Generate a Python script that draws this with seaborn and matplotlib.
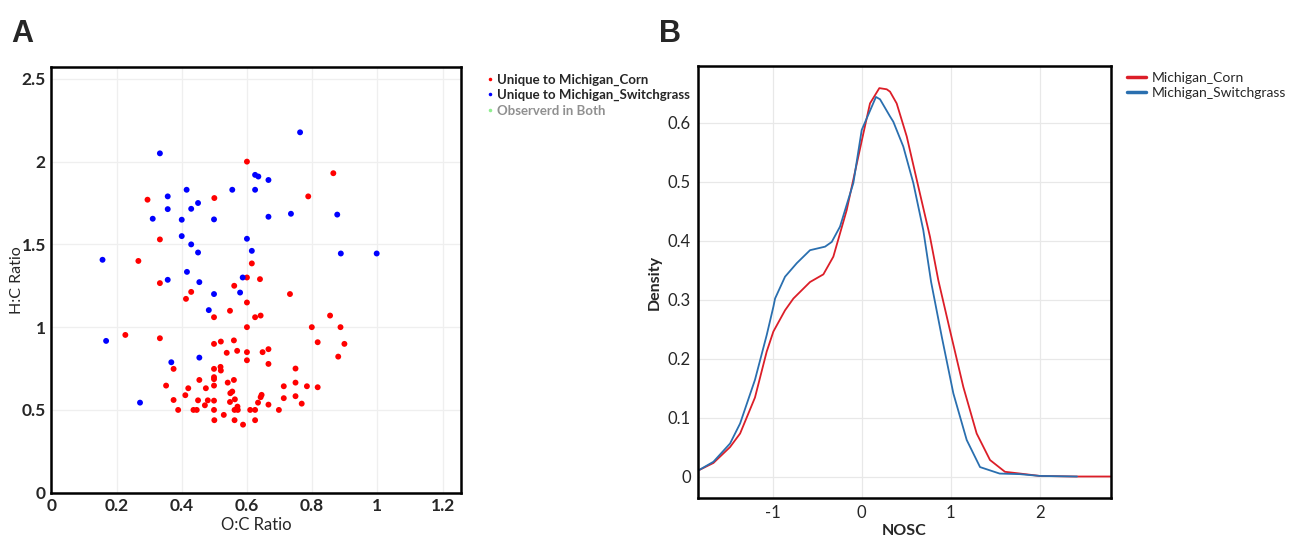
import matplotlib
matplotlib.use('Agg')
import matplotlib.pyplot as plt
from matplotlib.ticker import FuncFormatter
import seaborn as sns
import pandas as pd

# Panel A: van Krevelen points (O:C, H:C)
corn_oc = [0.6, 0.5, 0.295, 0.865, 0.788, 0.333, 0.615, 0.267, 0.64, 0.6,
           0.333, 0.429, 0.413, 0.561, 0.6, 0.548, 0.499, 0.625, 0.642, 0.732,
           0.6, 0.855, 0.799, 0.887, 0.817, 0.899, 0.88, 0.227, 0.333, 0.499,
           0.52, 0.56, 0.538, 0.57, 0.6, 0.6, 0.648, 0.666, 0.666, 0.749,
           0.375, 0.499, 0.519, 0.52, 0.499, 0.499, 0.454, 0.56, 0.541, 0.352,
           0.499, 0.42, 0.474, 0.549, 0.555, 0.411, 0.375, 0.45, 0.48, 0.499,
           0.563, 0.548, 0.471, 0.571, 0.389, 0.436, 0.446, 0.499, 0.562, 0.572,
           0.61, 0.625, 0.698, 0.529, 0.5, 0.562, 0.625, 0.588, 0.713, 0.749,
           0.784, 0.817, 0.713, 0.749, 0.768, 0.645, 0.642, 0.634, 0.666]
corn_hc = [2.0, 1.78, 1.77, 1.93, 1.79, 1.53, 1.385, 1.40, 1.29, 1.30,
           1.266, 1.213, 1.171, 1.25, 1.149, 1.099, 1.06, 1.06, 1.07, 1.2,
           1.0, 1.07, 1.0, 1.0, 0.909, 0.899, 0.822, 0.953, 0.933, 0.899,
           0.913, 0.92, 0.845, 0.857, 0.849, 0.80, 0.849, 0.867, 0.778, 0.75,
           0.748, 0.748, 0.76, 0.738, 0.698, 0.686, 0.681, 0.681, 0.665, 0.647,
           0.647, 0.631, 0.631, 0.601, 0.611, 0.589, 0.56, 0.558, 0.558, 0.556,
           0.564, 0.548, 0.528, 0.52, 0.5, 0.5, 0.5, 0.5, 0.5, 0.5,
           0.5, 0.5, 0.5, 0.47, 0.438, 0.438, 0.438, 0.411, 0.643, 0.665,
           0.643, 0.637, 0.571, 0.583, 0.538, 0.591, 0.577, 0.544, 0.532]

switch_oc = [0.333, 0.625, 0.635, 0.415, 0.555, 0.625, 0.357, 0.357, 0.429, 0.45,
             0.311, 0.4, 0.499, 0.4, 0.429, 0.45, 0.6, 0.615, 0.157, 0.416,
             0.763, 0.666, 0.666, 0.735, 0.877, 0.888, 0.998, 0.587, 0.357, 0.454,
             0.499, 0.579, 0.483, 0.168, 0.368, 0.454, 0.272]
switch_hc = [2.05, 1.92, 1.91, 1.83, 1.83, 1.83, 1.79, 1.713, 1.715, 1.75,
             1.655, 1.649, 1.651, 1.55, 1.5, 1.451, 1.534, 1.461, 1.407, 1.334,
             2.177, 1.889, 1.667, 1.685, 1.68, 1.445, 1.445, 1.30, 1.286, 1.272,
             1.2, 1.209, 1.103, 0.917, 0.788, 0.816, 0.544]

groups = ['Unique to Michigan_Corn', 'Unique to Michigan_Switchgrass', 'Observerd in Both']

# Panel B: NOSC density curves
corn_nosc = [-1.84, -1.667, -1.48, -1.367, -1.2, -1.068, -0.993, -0.862, -0.768, -0.581,
             -0.431, -0.319, -0.169, 0.011, 0.093, 0.198, 0.281, 0.318, 0.393, 0.506,
             0.636, 0.767, 0.861, 0.992, 1.142, 1.292, 1.442, 1.61, 1.78, 2.0, 2.4, 2.85]
corn_density = [0.010, 0.023, 0.050, 0.073, 0.134, 0.212, 0.246, 0.282, 0.302, 0.330,
                0.343, 0.373, 0.452, 0.577, 0.633, 0.659, 0.657, 0.653, 0.633, 0.577,
                0.492, 0.407, 0.333, 0.248, 0.152, 0.073, 0.028, 0.008, 0.005, 0.001, 0.0, 0.0]
switch_nosc = [-1.84, -1.667, -1.48, -1.367, -1.2, -1.068, -0.993, -0.974, -0.862, -0.73,
               -0.581, -0.412, -0.337, -0.244, -0.094, 0.0, 0.16, 0.206, 0.318, 0.355,
               0.467, 0.58, 0.692, 0.78, 0.9, 1.03, 1.18, 1.33, 1.55, 1.78, 2.0, 2.42]
switch_density = [0.010, 0.025, 0.056, 0.090, 0.164, 0.240, 0.288, 0.302, 0.339, 0.362,
                  0.384, 0.390, 0.398, 0.424, 0.498, 0.588, 0.644, 0.640, 0.611, 0.602,
                  0.560, 0.498, 0.418, 0.330, 0.237, 0.141, 0.062, 0.016, 0.005, 0.004, 0.001, 0.0]

sns.set_theme(style='white')
plt.rcParams['font.family'] = ['Lato', 'DejaVu Sans']

scatter_df = pd.DataFrame({
    'oc': corn_oc + switch_oc,
    'hc': corn_hc + switch_hc,
    'group': [groups[0]] * len(corn_oc) + [groups[1]] * len(switch_oc),
})
kde_df = pd.DataFrame({
    'nosc': corn_nosc + switch_nosc,
    'density': corn_density + switch_density,
    'site': ['Michigan_Corn'] * len(corn_nosc) + ['Michigan_Switchgrass'] * len(switch_nosc),
})

fig = plt.figure(figsize=(12.9, 5.36), dpi=100)
ax_a = fig.add_axes([0.0398, 0.0808, 0.3174, 0.7937])
ax_b = fig.add_axes([0.5409, 0.0703, 0.3202, 0.8071])

fmt = FuncFormatter(lambda v, _: f'{v:g}')

# ---- panel A
sns.scatterplot(data=scatter_df, x='oc', y='hc', hue='group', hue_order=groups,
                palette={groups[0]: '#ff0000', groups[1]: '#0000ff', groups[2]: '#90ee90'},
                s=18, linewidth=0, ax=ax_a)
ax_a.set_xlim(0, 1.256)
ax_a.set_ylim(0, 2.57)
ax_a.set_xticks([0, 0.2, 0.4, 0.6, 0.8, 1.0, 1.2])
ax_a.set_yticks([0, 0.5, 1.0, 1.5, 2.0, 2.5])
ax_a.xaxis.set_major_formatter(fmt)
ax_a.yaxis.set_major_formatter(fmt)
ax_a.grid(True, color='#efefef', linewidth=0.9)
ax_a.tick_params(length=0, labelsize=12.5, pad=4)
for lbl in ax_a.get_xticklabels() + ax_a.get_yticklabels():
    lbl.set_fontweight('bold')
ax_a.set_xlabel('O:C Ratio', fontsize=12, labelpad=2)
ax_a.set_ylabel('H:C Ratio', fontsize=11.5)
ax_a.yaxis.set_label_coords(-0.066, 0.5)
for sp in ax_a.spines.values():
    sp.set_color('black')
    sp.set_linewidth(1.8)

leg_a = ax_a.legend(loc='upper left', bbox_to_anchor=(0.371, 0.875), bbox_transform=fig.transFigure,
                    frameon=False, fontsize=9.5, handletextpad=0.1, labelspacing=0.25,
                    handlelength=0.8, borderpad=0, markerscale=0.6)
for t in leg_a.get_texts():
    t.set_fontweight('bold')
leg_a.get_texts()[2].set_color('#909090')

# ---- panel B
sns.lineplot(data=kde_df, x='nosc', y='density', hue='site', sort=False,
             palette={'Michigan_Corn': '#dc1e28', 'Michigan_Switchgrass': '#2a6faf'},
             linewidth=1.3, ax=ax_b)
ax_b.set_xlim(-1.843, 2.8)
ax_b.set_ylim(-0.037, 0.697)
ax_b.set_xticks([-1, 0, 1, 2])
ax_b.set_yticks([0, 0.1, 0.2, 0.3, 0.4, 0.5, 0.6])
ax_b.xaxis.set_major_formatter(fmt)
ax_b.yaxis.set_major_formatter(fmt)
ax_b.grid(True, color='#e8e8e8', linewidth=0.9)
ax_b.tick_params(length=0, labelsize=12, pad=5)
ax_b.set_xlabel('NOSC', fontsize=11.5, fontweight='bold', labelpad=2)
ax_b.set_ylabel('Density', fontsize=11.5, fontweight='bold', labelpad=4)
for sp in ax_b.spines.values():
    sp.set_color('black')
    sp.set_linewidth(1.8)

leg_b = ax_b.legend(loc='upper left', bbox_to_anchor=(0.868, 0.878), bbox_transform=fig.transFigure,
                    frameon=False, fontsize=10, handletextpad=0.4, labelspacing=0.2,
                    handlelength=1.4, borderpad=0)
for line in leg_b.get_lines():
    line.set_linewidth(2.5)

fig.text(0.009, 0.965, 'A', fontsize=22, fontweight='bold', family='Liberation Sans', va='top')
fig.text(0.511, 0.965, 'B', fontsize=22, fontweight='bold', family='Liberation Sans', va='top')

fig.savefig('out.png', dpi=100)
